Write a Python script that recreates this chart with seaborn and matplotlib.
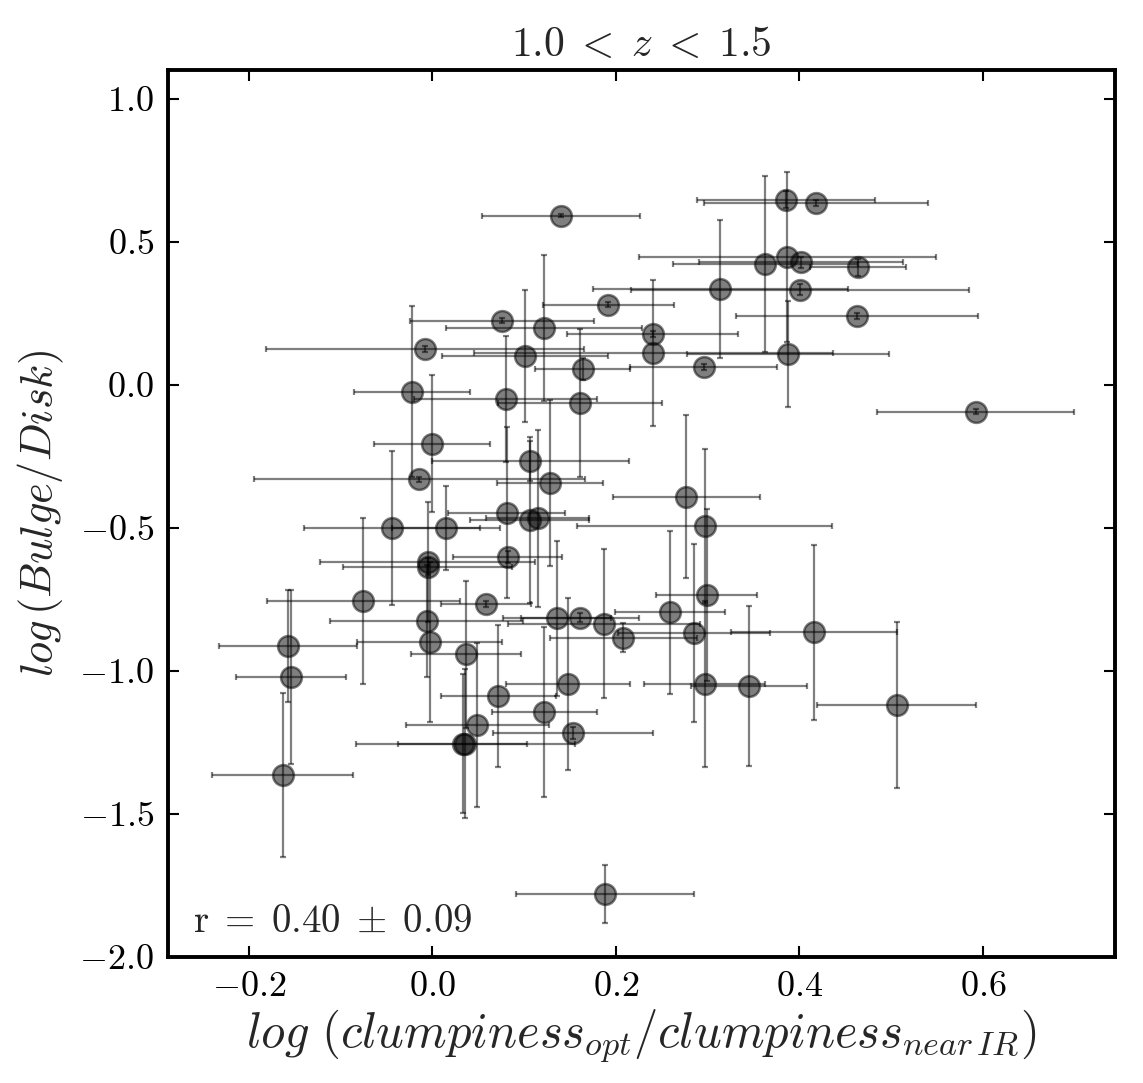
import numpy as np
import pandas as pd
import matplotlib
matplotlib.use("Agg")
import matplotlib.pyplot as plt
import seaborn as sns

# ---- data ----
x = [0.140, 0.386, 0.418, 0.363, 0.387, 0.402, 0.464, 0.314, 0.401, 0.192,
     0.463, 0.240, 0.296, 0.388, 0.241, 0.592, 0.076, 0.122, -0.008, 0.101,
     0.164, -0.022, 0.080, 0.161, 0.000, 0.107, -0.014, 0.128, 0.277, 0.081,
     0.106, 0.115, -0.044, 0.015, -0.005, -0.005, 0.082, -0.075, 0.059, -0.006,
     0.136, 0.161, 0.187, 0.208, -0.157, -0.003, 0.037, -0.154, 0.148, 0.072,
     0.122, 0.049, 0.153, 0.033, 0.036, -0.163, 0.188, 0.297, 0.299, 0.259,
     0.285, 0.416, 0.297, 0.345, 0.506]
y = [0.591, 0.646, 0.636, 0.421, 0.448, 0.428, 0.410, 0.335, 0.332, 0.280,
     0.240, 0.178, 0.062, 0.107, 0.111, -0.094, 0.224, 0.198, 0.126, 0.101,
     0.055, -0.024, -0.051, -0.064, -0.206, -0.266, -0.331, -0.345, -0.392, -0.447,
     -0.472, -0.467, -0.501, -0.501, -0.619, -0.636, -0.602, -0.756, -0.766, -0.826,
     -0.816, -0.814, -0.835, -0.884, -0.913, -0.900, -0.942, -1.021, -1.045, -1.088,
     -1.143, -1.189, -1.217, -1.255, -1.255, -1.364, -1.780, -0.494, -0.734, -0.795,
     -0.867, -0.865, -1.045, -1.052, -1.120]
xerr = [0.086, 0.097, 0.122, 0.101, 0.162, 0.111, 0.052, 0.139, 0.184, 0.071,
        0.132, 0.093, 0.080, 0.110, 0.196, 0.107, 0.100, 0.107, 0.173, 0.090,
        0.052, 0.063, 0.100, 0.089, 0.063, 0.107, 0.180, 0.058, 0.080, 0.064,
        0.065, 0.056, 0.096, 0.059, 0.117, 0.092, 0.059, 0.105, 0.049, 0.105,
        0.059, 0.064, 0.105, 0.080, 0.075, 0.079, 0.060, 0.060, 0.068, 0.063,
        0.057, 0.078, 0.087, 0.070, 0.119, 0.077, 0.097, 0.139, 0.055, 0.060,
        0.083, 0.090, 0.066, 0.063, 0.087]
yerr = [0.005, 0.030, 0.010, 0.307, 0.297, 0.020, 0.030, 0.240, 0.020, 0.010,
        0.010, 0.010, 0.010, 0.186, 0.255, 0.010, 0.010, 0.254, 0.010, 0.230,
        0.040, 0.300, 0.220, 0.260, 0.240, 0.070, 0.010, 0.290, 0.285, 0.300,
        0.290, 0.310, 0.270, 0.147, 0.210, 0.030, 0.020, 0.290, 0.010, 0.195,
        0.270, 0.015, 0.260, 0.050, 0.197, 0.280, 0.256, 0.305, 0.300, 0.247,
        0.297, 0.285, 0.020, 0.243, 0.260, 0.285, 0.100, 0.270, 0.300, 0.285,
        0.310, 0.305, 0.290, 0.280, 0.290]

title_text = r"$1.0\;<\;z\;<\;1.5$"
xlabel_text = r"$log\ (clumpiness_{opt}/clumpiness_{near\,IR})$"
ylabel_text = r"$log\,(Bulge/Disk)$"
corr_text = r"$\mathrm{r}\;=\;0.40\;\pm\;0.09$"
xticks = [-0.2, 0.0, 0.2, 0.4, 0.6]
yticks = [-2.0, -1.5, -1.0, -0.5, 0.0, 0.5, 1.0]

df = pd.DataFrame({"x": x, "y": y, "xerr": xerr, "yerr": yerr})

sns.set_theme(style="ticks")
plt.rcParams["font.family"] = ["cmr10", "DejaVu Sans"]
plt.rcParams["mathtext.fontset"] = "cm"
plt.rcParams["axes.formatter.use_mathtext"] = True
plt.rcParams["axes.unicode_minus"] = True

fig = plt.figure(figsize=(11.43, 10.83), dpi=100)
ax = fig.add_axes([0.147, 0.1163, 0.8285, 0.8191])

ax.errorbar(df["x"], df["y"], xerr=df["xerr"], yerr=df["yerr"], fmt="none",
            ecolor="black", alpha=0.5, elinewidth=1.6, capsize=2.3, capthick=1.6,
            zorder=2)
sns.scatterplot(data=df, x="x", y="y", ax=ax, s=225, color="black", alpha=0.5,
                edgecolor="black", linewidth=1.8, zorder=3, legend=False)

ax.set_xlim(-0.288, 0.744)
ax.set_ylim(-2.0, 1.1)
ax.set_xticks(xticks)
ax.set_yticks(yticks)

for side in ["top", "bottom", "left", "right"]:
    ax.spines[side].set_visible(True)
    ax.spines[side].set_linewidth(2.8)
    ax.spines[side].set_color("black")

ax.tick_params(direction="in", top=True, right=True, length=8, width=1.5,
               labelsize=26, pad=10, colors="black")

ax.set_title(title_text, fontsize=30, pad=10)
ax.set_xlabel(xlabel_text, fontsize=35, labelpad=4)
ax.set_ylabel(ylabel_text, fontsize=32, labelpad=10)

ax.text(0.026, 0.028, corr_text, transform=ax.transAxes, fontsize=28,
        ha="left", va="baseline")

fig.savefig("out.png", dpi=100)
